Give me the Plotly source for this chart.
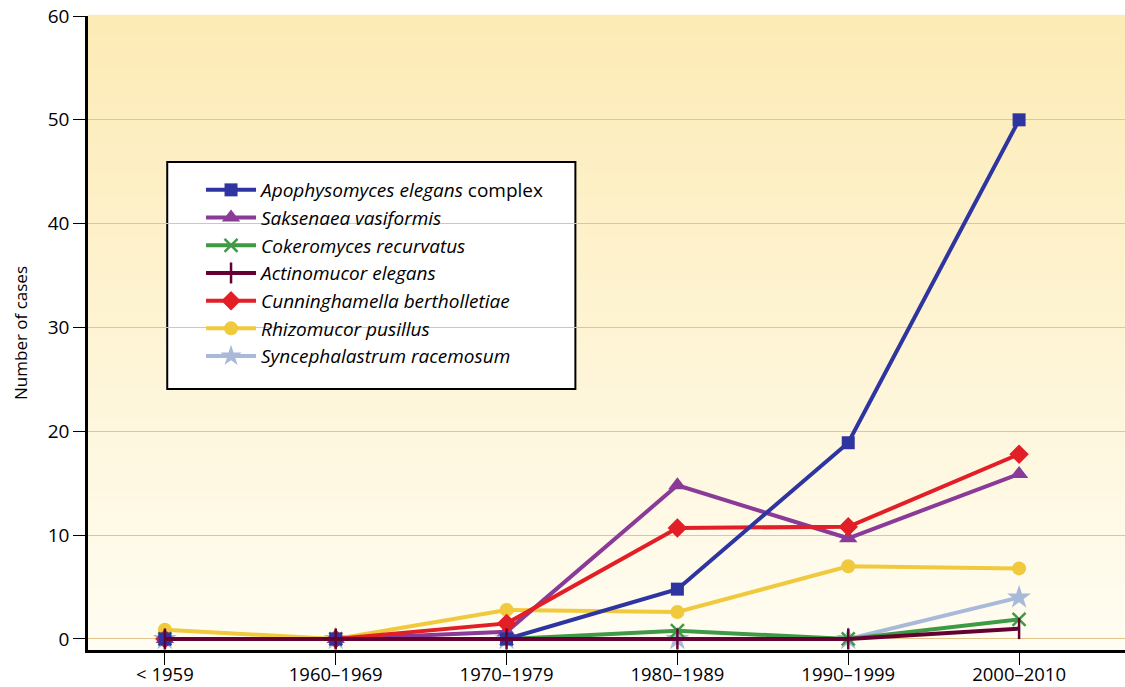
import plotly.graph_objects as go

periods = ["< 1959", "1960–1969", "1970–1979", "1980–1989", "1990–1999", "2000–2010"]

apophysomyces = [0, 0, 0, 4.8, 18.9, 50]
saksenaea = [0, 0, 0.7, 14.8, 9.7, 15.9]
cokeromyces = [0, 0, 0, 0.8, 0, 1.9]
actinomucor = [0, 0, 0, 0, 0, 1]
cunninghamella = [0, 0, 1.5, 10.7, 10.8, 17.8]
rhizomucor = [0.9, 0, 2.8, 2.6, 7, 6.8]
syncephalastrum = [0, 0, 0, 0, 0, 4]

series = [
    # name, values, color, symbol, size, legendrank
    ("<i>Syncephalastrum racemosum</i>", syncephalastrum, "#A9B9DA", "star", 18, 7),
    ("<i>Rhizomucor pusillus</i>", rhizomucor, "#F0C93C", "circle", 14, 6),
    ("<i>Cokeromyces recurvatus</i>", cokeromyces, "#3F9A45", "x-thin", 13, 3),
    ("<i>Saksenaea vasiformis</i>", saksenaea, "#8A3A97", "triangle-up", 16, 2),
    ("<i>Cunninghamella bertholletiae</i>", cunninghamella, "#E21E26", "diamond", 15, 5),
    ("<i>Apophysomyces elegans</i> complex", apophysomyces, "#2E35A0", "square", 13, 1),
    ("<i>Actinomucor elegans</i>", actinomucor, "#650033", "line-ns", 15, 4),
]

fig = go.Figure()
for name, vals, color, sym, size, rank in series:
    marker = dict(symbol=sym, size=size, color=color)
    if sym in ("x-thin", "line-ns"):
        marker = dict(symbol=sym, size=size, color=color, line=dict(color=color, width=2.5))
    fig.add_trace(go.Scatter(
        x=periods, y=vals, name=name, mode="lines+markers",
        line=dict(color=color, width=4), marker=marker, legendrank=rank,
    ))

# vertical gradient background (cream at bottom to pale yellow at top)
top = (253, 235, 182)
bot = (255, 253, 242)
n = 60
shapes = []
for i in range(n):
    t = i / (n - 1)
    c = tuple(round(bot[k] + (top[k] - bot[k]) * t) for k in range(3))
    shapes.append(dict(type="rect", xref="paper", yref="paper",
                       x0=0, x1=1, y0=i / n, y1=(i + 1) / n + 0.002,
                       fillcolor="rgb(%d,%d,%d)" % c, line=dict(width=0), layer="below"))
# legend frame (white box with black border, drawn over gridlines)
shapes.append(dict(type="rect", xref="paper", yref="paper",
                   x0=0.0764, x1=0.470, y0=0.4117, y1=0.7697,
                   fillcolor="white", line=dict(color="black", width=2), layer="between"))

font_family = "Open Sans, Noto Sans, sans-serif"
fig.update_layout(
    width=1125, height=687,
    margin=dict(l=88, r=0, t=16, b=37),
    paper_bgcolor="white", plot_bgcolor="rgba(0,0,0,0)",
    font=dict(family=font_family, size=17, color="black"),
    shapes=shapes,
    showlegend=True,
    legend=dict(
        x=0.109, y=0.7555, xanchor="left", yanchor="top",
        bgcolor="rgba(0,0,0,0)", borderwidth=0,
        font=dict(size=19, color="black", family=font_family),
        tracegroupgap=0, itemwidth=50,
    ),
    xaxis=dict(
        type="category", range=[-0.45, 5.62], automargin=False,
        showgrid=False, zeroline=False,
        showline=True, linecolor="black", linewidth=2.5,
        ticks="outside", ticklen=12, tickwidth=1.2, tickcolor="black",
        tickfont=dict(size=18.5), ticklabelstandoff=-6,
    ),
    yaxis=dict(
        range=[-1.06, 60], tickvals=[0, 10, 20, 30, 40, 50, 60], automargin=False,
        showgrid=True, gridcolor="#E6C48E", gridwidth=1, zeroline=False,
        showline=True, linecolor="black", linewidth=2.5,
        ticks="outside", ticklen=12, tickwidth=1.2, tickcolor="black",
        tickfont=dict(size=19),
        title=dict(text="Number of cases", font=dict(size=17), standoff=16),
    ),
)

fig.write_html("out.html", config={"displayModeBar": False},
               post_script="document.body.style.margin='0';document.body.style.overflow='hidden';")
